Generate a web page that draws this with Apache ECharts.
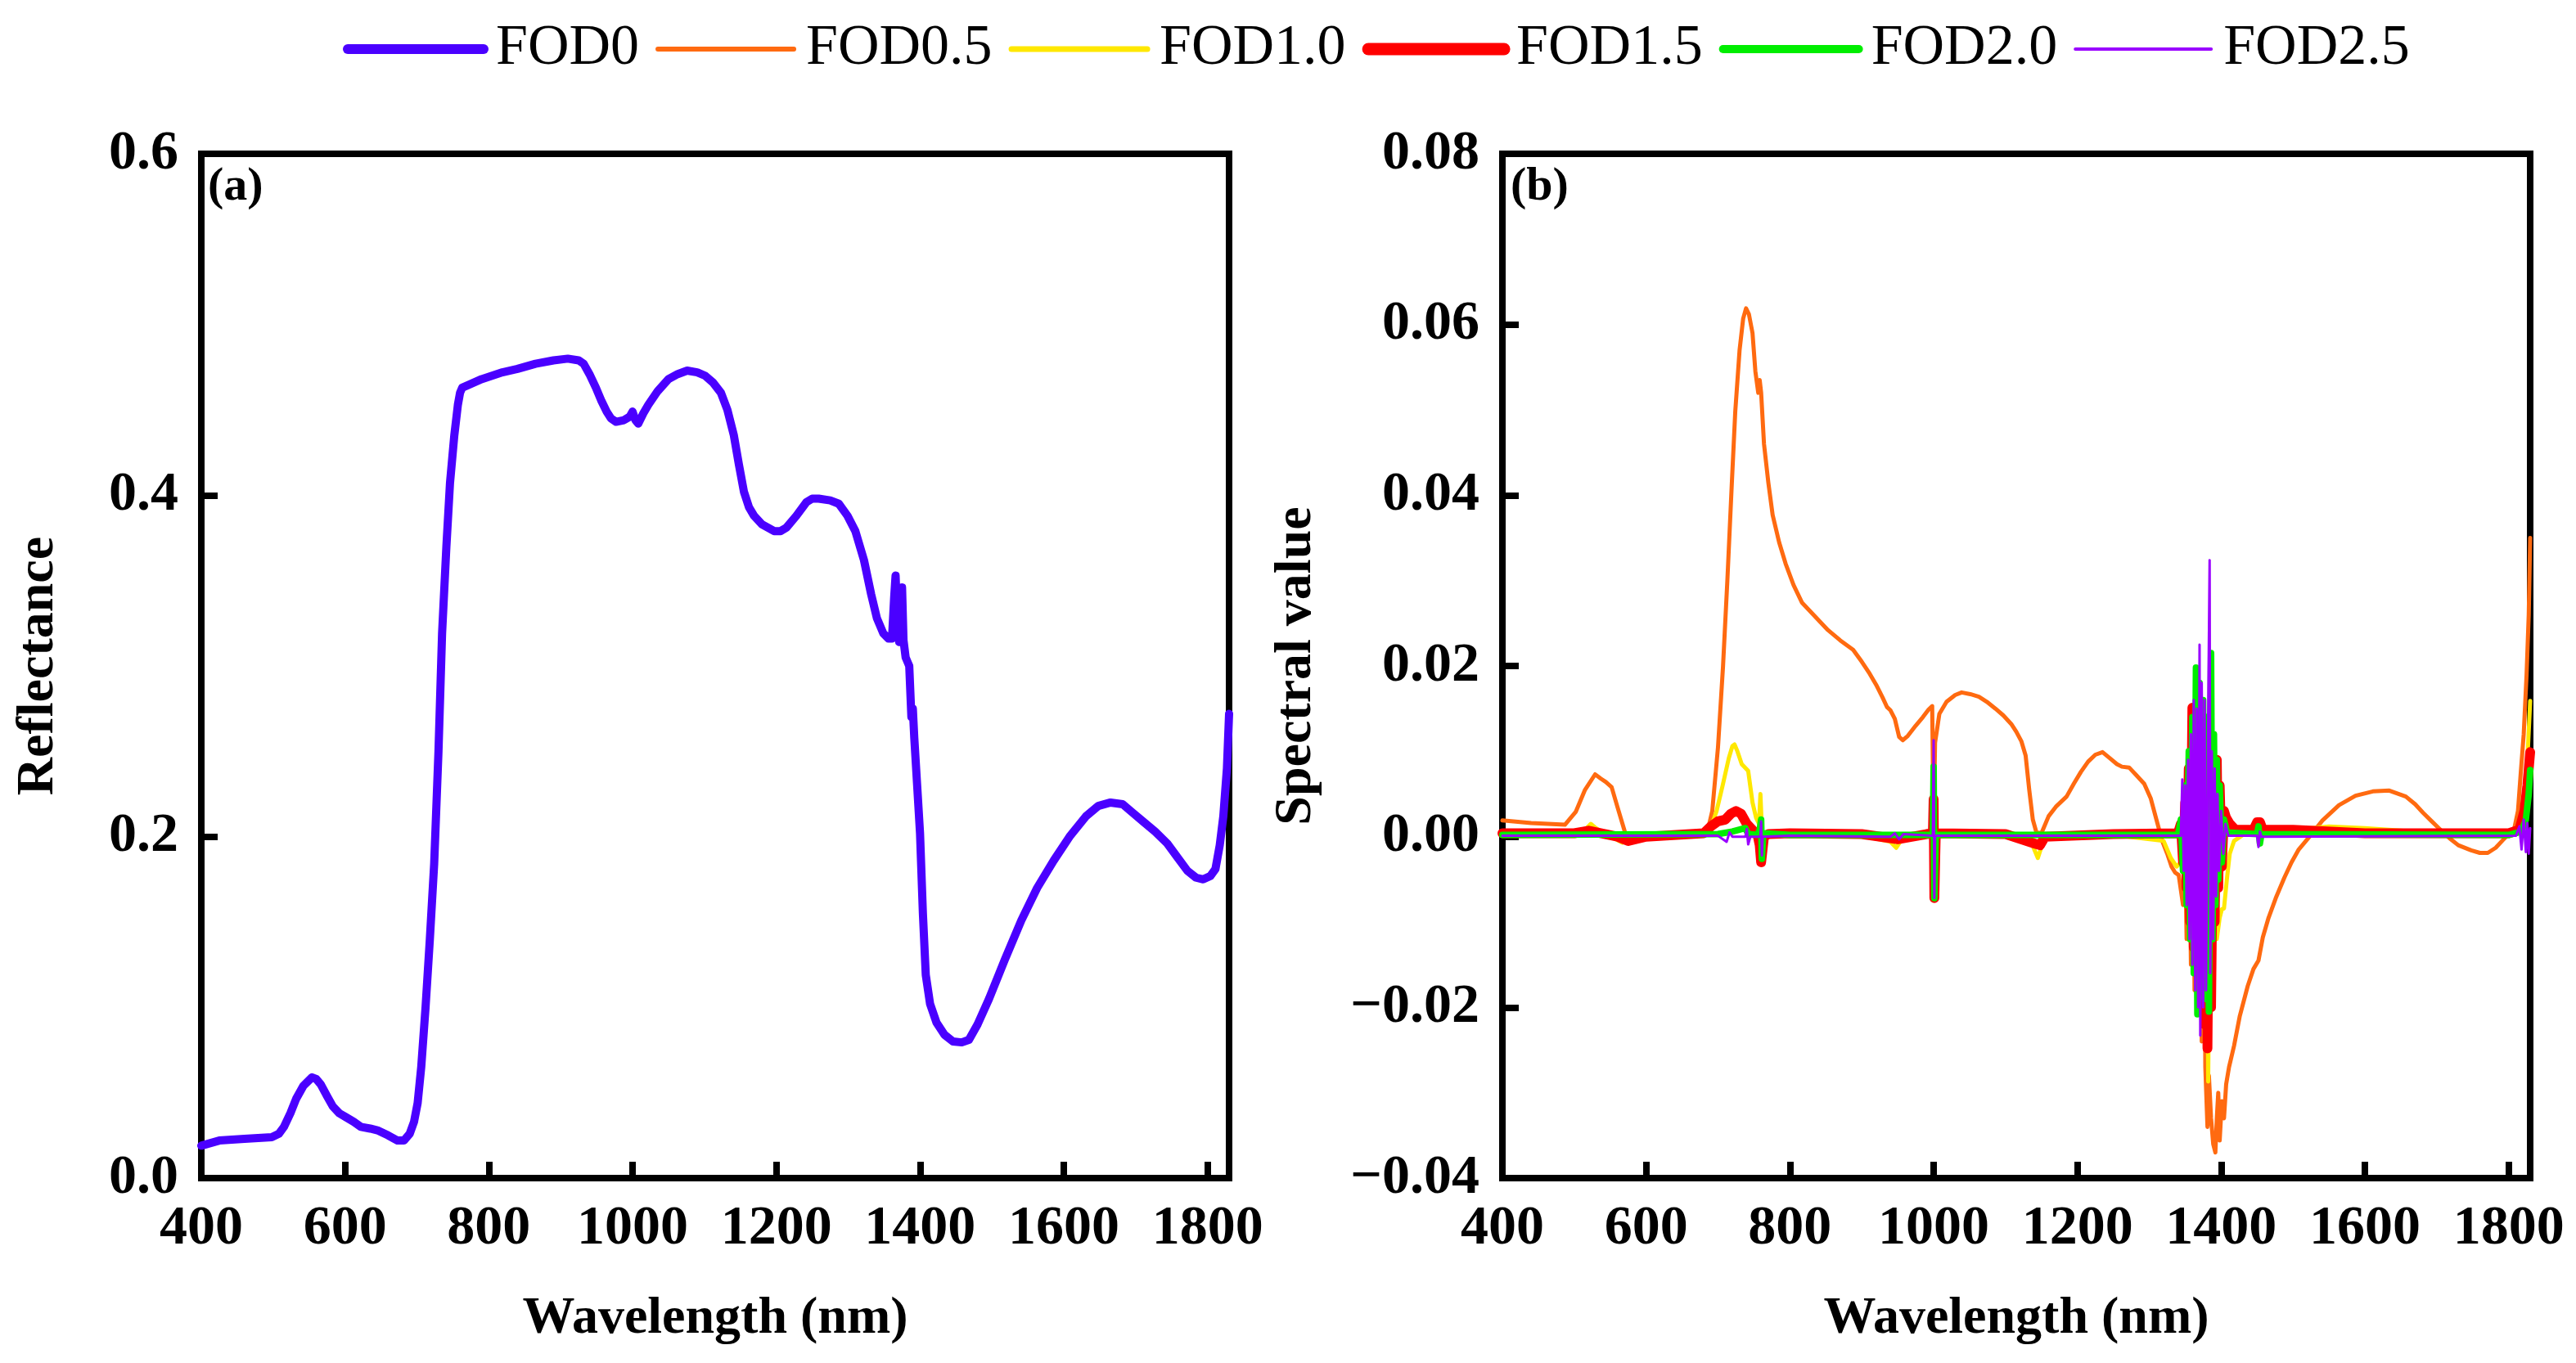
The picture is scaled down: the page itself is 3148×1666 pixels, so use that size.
<!DOCTYPE html>
<html lang="en">
<head>
    <meta charset="UTF-8">
    <title>FOD spectra</title>
    <script src="https://cdn.jsdelivr.net/npm/echarts@6.0.0/dist/echarts.min.js"></script>
    <style>
        body { margin: 0; background: #fff; }
    </style>
</head>
<body>
    <div id="main" style="width:3148px;height:1666px;"></div>
</body>
<script>

// wavelength ticks shared by both panels
var wlTicks = [400, 600, 800, 1000, 1200, 1400, 1600, 1800];
var reflTicks = [0, 0.2, 0.4, 0.6];
var specTicks = [-0.04, -0.02, 0, 0.02, 0.04, 0.06, 0.08];

// (a) original reflectance, [wavelength, reflectance]
var fod0 = [
    [400,0.019],[425,0.022],[460,0.023],[498,0.024],[508,0.026],[515,0.030],[524,0.038],[532,0.0465],
    [542,0.054],[554,0.059],[560,0.058],[566,0.055],[575,0.048],[583,0.042],[592,0.038],[600,0.036],
    [612,0.033],[622,0.030],[635,0.029],[645,0.028],[660,0.025],[673,0.022],[682,0.022],[690,0.026],
    [696,0.033],[701,0.044],[706,0.065],[712,0.10],[718,0.14],[724,0.184],[730,0.25],[735,0.319],
    [741,0.37],[746,0.407],[752,0.435],[757,0.453],[760,0.46],[763,0.463],[774,0.465],[790,0.468],
    [819,0.472],[840,0.474],[865,0.477],[890,0.479],[910,0.48],[925,0.479],[932,0.477],[940,0.471],
    [949,0.463],[957,0.455],[964,0.449],[970,0.445],[977,0.443],[988,0.444],[996,0.446],[1000,0.449],
    [1004,0.444],[1008,0.442],[1015,0.448],[1022,0.453],[1035,0.461],[1050,0.468],[1063,0.471],
    [1076,0.473],[1090,0.472],[1101,0.470],[1112,0.466],[1123,0.460],[1132,0.45],[1141,0.435],
    [1148,0.418],[1155,0.402],[1162,0.393],[1169,0.388],[1180,0.383],[1197,0.379],[1206,0.379],
    [1214,0.381],[1228,0.388],[1242,0.396],[1250,0.398],[1259,0.398],[1275,0.397],[1287,0.395],
    [1299,0.388],[1310,0.379],[1322,0.362],[1332,0.342],[1340,0.328],[1349,0.319],[1356,0.316],
    [1361,0.316],[1364,0.34],[1366,0.353],[1368,0.33],[1371,0.314],[1373,0.33],[1375,0.346],
    [1377,0.315],[1380,0.305],[1383,0.302],[1385,0.300],[1388,0.27],[1390,0.275],[1392,0.258],
    [1396,0.23],[1400,0.202],[1404,0.155],[1408,0.119],[1414,0.102],[1423,0.091],[1434,0.084],
    [1446,0.080],[1458,0.0795],[1468,0.081],[1480,0.09],[1496,0.105],[1518,0.128],[1541,0.151],
    [1563,0.17],[1586,0.186],[1608,0.2],[1631,0.212],[1648,0.218],[1665,0.220],[1682,0.219],
    [1696,0.214],[1710,0.209],[1727,0.203],[1744,0.196],[1758,0.188],[1772,0.180],[1784,0.176],
    [1794,0.175],[1804,0.177],[1811,0.181],[1817,0.195],[1822,0.212],[1827,0.24],[1830,0.272]
];

// (b) fractional order derivatives
var fod05 = [
    [400,0.0019],[440,0.0016],[487,0.0014],[502,0.0029],[515,0.0055],[529,0.0073],[537,0.0068],
    [544,0.0064],[552,0.0058],[560,0.0035],[571,0.0004],[580,-0.0004],[600,0.0002],[640,0.0003],
    [685,0.0005],[692,0.003],[700,0.0105],[707,0.02],[713,0.03],[719,0.041],[724,0.0498],[730,0.057],
    [735,0.0607],[739,0.0619],[743,0.0612],[748,0.059],[752,0.0545],[756,0.052],[758,0.0535],
    [760,0.052],[764,0.046],[770,0.0415],[776,0.0377],[785,0.0345],[794,0.032],[805,0.0295],
    [817,0.0274],[835,0.0258],[853,0.0242],[870,0.023],[888,0.0219],[900,0.0205],[911,0.0191],
    [920,0.0178],[929,0.0163],[935,0.0152],[940,0.0148],[946,0.0138],[952,0.0117],[957,0.0113],
    [964,0.0118],[975,0.013],[985,0.014],[993,0.0149],[998,0.0153],[1000,0.0005],[1002,0.011],
    [1008,0.0144],[1018,0.0158],[1030,0.0166],[1039,0.0169],[1051,0.0167],[1063,0.0164],
    [1074,0.0158],[1086,0.015],[1097,0.0142],[1108,0.0132],[1115,0.0123],[1122,0.0112],
    [1128,0.0095],[1133,0.0055],[1138,0.002],[1143,0.0005],[1150,0.0004],[1160,0.0024],
    [1170,0.0035],[1185,0.0047],[1195,0.0062],[1205,0.0076],[1215,0.0088],[1225,0.0096],
    [1235,0.0099],[1245,0.0092],[1255,0.0085],[1262,0.0082],[1272,0.0081],[1282,0.0072],
    [1293,0.0062],[1302,0.0045],[1310,0.002],[1318,-0.0005],[1325,-0.002],[1331,-0.0035],
    [1336,-0.0042],[1341,-0.0045],[1347,-0.008],[1350,-0.002],[1352,-0.012],[1355,0.006],
    [1358,-0.015],[1361,0.012],[1363,-0.018],[1366,0.0198],[1368,-0.02],[1371,0.015],[1373,-0.024],
    [1376,0.01],[1378,-0.027],[1381,-0.034],[1383,-0.028],[1386,-0.033],[1389,-0.036],[1392,-0.037],
    [1394,-0.033],[1396,-0.03],[1398,-0.0356],[1401,-0.031],[1404,-0.033],[1407,-0.029],
    [1411,-0.027],[1418,-0.0245],[1426,-0.021],[1437,-0.0175],[1445,-0.0155],[1452,-0.0145],
    [1458,-0.0118],[1466,-0.0095],[1476,-0.0072],[1488,-0.0048],[1498,-0.003],[1508,-0.0015],
    [1523,0.0],[1541,0.0019],[1564,0.0037],[1587,0.0048],[1611,0.0053],[1634,0.0054],[1657,0.0047],
    [1670,0.0038],[1681,0.0028],[1693,0.0018],[1704,0.0009],[1718,-0.0002],[1730,-0.001],
    [1748,-0.0016],[1760,-0.0019],[1771,-0.0019],[1782,-0.0013],[1792,-0.0004],[1800,0.0003],
    [1808,0.001],[1813,0.003],[1817,0.0076],[1821,0.012],[1825,0.019],[1828,0.026],[1830,0.035]
];

var fod10 = [
    [400,0.0003],[500,0.0004],[515,0.0008],[523,0.0015],[530,0.001],[545,0.0002],[560,-0.0004],
    [567,-0.0007],[575,-0.0002],[600,0.0002],[680,0.0003],[689,0.0008],[698,0.003],[707,0.0062],
    [715,0.0092],[720,0.0106],[723,0.0108],[727,0.01],[733,0.0085],[742,0.0077],[748,0.004],
    [753,0.0022],[757,0.0015],[759,0.005],[761,0.001],[763,-0.001],[766,0.0002],[800,0.0002],
    [900,0.0001],[940,-0.0006],[948,-0.0013],[955,-0.0004],[990,0.0002],[998,0.0004],[1000,0.008],
    [1001,-0.007],[1003,0.0003],[1100,0.0001],[1135,-0.0005],[1140,-0.0015],[1145,-0.0025],
    [1150,-0.0012],[1158,0.0],[1250,0.0002],[1320,-0.0005],[1330,-0.0025],[1338,-0.0035],
    [1344,-0.003],[1347,0.003],[1350,-0.006],[1353,0.008],[1356,-0.01],[1359,0.012],[1362,-0.014],
    [1365,0.0165],[1367,-0.016],[1370,0.014],[1372,-0.02],[1375,0.012],[1377,-0.024],[1380,0.008],
    [1382,-0.0287],[1385,0.005],[1388,-0.018],[1391,0.003],[1394,-0.012],[1398,-0.0095],
    [1401,-0.0085],[1404,-0.0084],[1408,-0.005],[1412,-0.002],[1418,-0.0005],[1430,0.0002],
    [1448,0.0006],[1451,0.0012],[1454,0.0004],[1500,0.0008],[1550,0.0012],[1600,0.001],
    [1650,0.0007],[1700,0.0004],[1800,0.0003],[1812,0.0008],[1820,0.003],[1825,0.007],[1830,0.0159]
];

var fod15 = [
    [400,0.0004],[500,0.0004],[520,0.0007],[560,0.0],[575,-0.0005],[600,0.0],[680,0.0004],
    [690,0.0012],[700,0.0018],[710,0.002],[718,0.0027],[725,0.003],[732,0.0027],[740,0.0015],
    [748,0.0008],[755,0.0002],[758,-0.001],[760,-0.003],[762,-0.003],[764,0.0],[770,0.0003],
    [800,0.0004],[900,0.0003],[950,-0.0003],[990,0.0003],[999,0.0004],[1000,0.0044],[1001,-0.0072],
    [1003,0.0004],[1100,0.0003],[1140,-0.0008],[1148,-0.001],[1155,0.0],[1250,0.0003],[1340,0.0004],
    [1344,0.0015],[1347,-0.003],[1350,0.004],[1352,-0.006],[1355,0.008],[1357,-0.01],[1360,0.0151],
    [1362,-0.013],[1365,0.013],[1367,-0.016],[1370,0.011],[1372,-0.019],[1375,0.01],[1377,-0.022],
    [1380,0.008],[1381,-0.0248],[1384,0.006],[1386,-0.02],[1389,0.004],[1391,-0.01],[1394,0.009],
    [1396,-0.006],[1398,0.006],[1401,-0.0035],[1404,0.003],[1407,0.0022],[1412,0.0015],[1420,0.0008],
    [1445,0.0008],[1450,0.0017],[1454,0.0017],[1458,0.0008],[1500,0.0008],[1600,0.0004],
    [1800,0.0004],[1815,0.0008],[1822,0.003],[1826,0.006],[1830,0.0099]
];

var fod20 = [
    [400,0.0002],[700,0.0003],[720,0.0006],[738,0.001],[742,0.0003],[755,0.0002],[758,0.0008],
    [760,0.002],[761,-0.0026],[763,0.0004],[800,0.0002],[999,0.0002],[1000,0.0082],[1001,-0.0072],
    [1003,0.0002],[1340,0.0002],[1344,0.002],[1347,-0.004],[1350,0.006],[1352,-0.008],[1355,0.01],
    [1357,-0.012],[1360,0.014],[1362,-0.016],[1365,0.0198],[1367,-0.0208],[1370,0.018],[1372,-0.018],
    [1375,0.016],[1377,-0.019],[1380,0.014],[1383,-0.0205],[1386,0.0215],[1388,-0.012],[1390,0.012],
    [1392,-0.008],[1394,0.009],[1396,-0.005],[1398,0.006],[1401,-0.003],[1404,0.002],[1408,0.0005],
    [1450,0.0003],[1452,0.0012],[1454,-0.0008],[1456,0.0003],[1800,0.0002],[1818,0.0006],
    [1824,0.002],[1828,0.005],[1830,0.0078]
];

var fod25 = [
    [400,0.0001],[700,0.0001],[712,-0.0006],[716,0.0005],[720,0.0],[738,0.0],[740,0.0009],
    [742,-0.0009],[745,0.0],[759,0.0],[760,0.0018],[761,-0.0022],[762,0.0],[800,0.0001],[940,0.0],
    [946,0.0004],[952,-0.0003],[958,0.0003],[999,0.0001],[1000,0.0113],[1001,-0.0072],[1002,0.0001],
    [1344,0.0001],[1346,0.0067],[1348,-0.004],[1350,0.006],[1352,-0.008],[1354,0.009],[1356,-0.012],
    [1358,0.012],[1360,-0.015],[1362,0.016],[1364,-0.018],[1366,0.015],[1368,-0.02],[1370,0.0225],
    [1371,-0.0233],[1373,0.018],[1375,-0.02],[1377,0.016],[1379,-0.018],[1382,0.014],[1384,0.0324],
    [1385,-0.016],[1387,0.01],[1389,-0.012],[1391,0.008],[1393,-0.007],[1395,0.005],[1397,-0.004],
    [1400,0.003],[1403,-0.002],[1406,0.0015],[1410,0.0001],[1450,0.0001],[1452,-0.0012],
    [1454,0.0006],[1456,0.0],[1810,0.0001],[1815,0.0012],[1818,-0.0015],[1821,0.002],[1824,-0.0018],
    [1826,0.0016],[1828,-0.002],[1830,0.001]
];

var names = ['FOD0', 'FOD0.5', 'FOD1.0', 'FOD1.5', 'FOD2.0', 'FOD2.5'];
var colors = ['#4a00ff', '#ff6a10', '#ffe800', '#ff0000', '#00ee00', '#9a00ff'];
var widths = [10, 5, 5, 12, 8, 3];
var legendWidths = [12, 6, 7, 15, 10, 4];

var FONT = 'Liberation Serif';

function minus(s) {
    return s.charAt(0) === '-' ? '\u2212' + s.slice(1) : s;
}

function wlAxis(idx) {
    return {
        type: 'value',
        gridIndex: idx,
        min: 400,
        max: 1830,
        interval: 200,
        name: 'Wavelength (nm)',
        nameLocation: 'middle',
        nameGap: 140,
        nameTextStyle: { fontFamily: FONT, fontWeight: 'bold', fontSize: 64, color: '#000' },
        axisLine: { show: true, onZero: false, lineStyle: { color: '#000', width: 8 } },
        axisTick: { show: true, inside: true, length: 20, customValues: wlTicks,
            lineStyle: { color: '#000', width: 8 } },
        axisLabel: { customValues: wlTicks, margin: 28, fontFamily: FONT, fontWeight: 'bold',
            fontSize: 68, color: '#000',
            formatter: function (v) { return String(v); } },
        splitLine: { show: false }
    };
}

function valAxis(idx, ticks, name, gap, digits) {
    return {
        type: 'value',
        gridIndex: idx,
        min: ticks[0],
        max: ticks[ticks.length - 1],
        interval: ticks[1] - ticks[0],
        name: name,
        nameLocation: 'middle',
        nameGap: gap,
        nameTextStyle: { fontFamily: FONT, fontWeight: 'bold', fontSize: 64, color: '#000' },
        axisLine: { show: true, onZero: false, lineStyle: { color: '#000', width: 8 } },
        axisTick: { show: true, inside: true, length: 20, lineStyle: { color: '#000', width: 8 } },
        axisLabel: {
            margin: 28, fontFamily: FONT, fontWeight: 'bold', fontSize: 68, color: '#000',
            formatter: function (v) { return minus(v.toFixed(digits)); }
        },
        splitLine: { show: false }
    };
}

var seriesData = [fod0, fod05, fod10, fod15, fod20, fod25];
var series = [];
for (var i = 0; i < names.length; i++) {
    series.push({
        name: names[i],
        type: 'line',
        xAxisIndex: i === 0 ? 0 : 1,
        yAxisIndex: i === 0 ? 0 : 1,
        data: seriesData[i],
        symbol: 'none',
        showSymbol: false,
        clip: true,
        z: 2 + i,
        lineStyle: { color: colors[i], width: widths[i], join: 'round', cap: 'round' },
        itemStyle: { color: colors[i] }
    });
}

var legendData = names.map(function (n, i) {
    return { name: n, itemStyle: { opacity: 0 }, lineStyle: { width: legendWidths[i], color: colors[i] } };
});

var chart = echarts.init(document.getElementById('main'));
chart.setOption({
    backgroundColor: '#fff',
    animation: false,
    legend: {
        left: 414,
        top: 20,
        itemWidth: 166,
        itemHeight: 20,
        itemGap: 20,
        selectedMode: false,
        textStyle: { fontFamily: FONT, fontSize: 70, color: '#000', padding: [0, 0, 0, 10] },
        data: legendData
    },
    grid: [
        { left: 246, top: 188, width: 1256, height: 1252, show: true, borderColor: '#000', borderWidth: 8 },
        { left: 1836, top: 188, width: 1256, height: 1252, show: true, borderColor: '#000', borderWidth: 8 }
    ],
    xAxis: [wlAxis(0), wlAxis(1)],
    yAxis: [
        valAxis(0, reflTicks, 'Reflectance', 167, 1),
        valAxis(1, specTicks, 'Spectral value', 220, 2)
    ],
    graphic: [
        { type: 'text', left: 254, top: 200, style: { text: '(a)', font: 'bold 58px "Liberation Serif"', fill: '#000' } },
        { type: 'text', left: 1846, top: 200, style: { text: '(b)', font: 'bold 58px "Liberation Serif"', fill: '#000' } }
    ],
    series: series
});

</script>
</html>
